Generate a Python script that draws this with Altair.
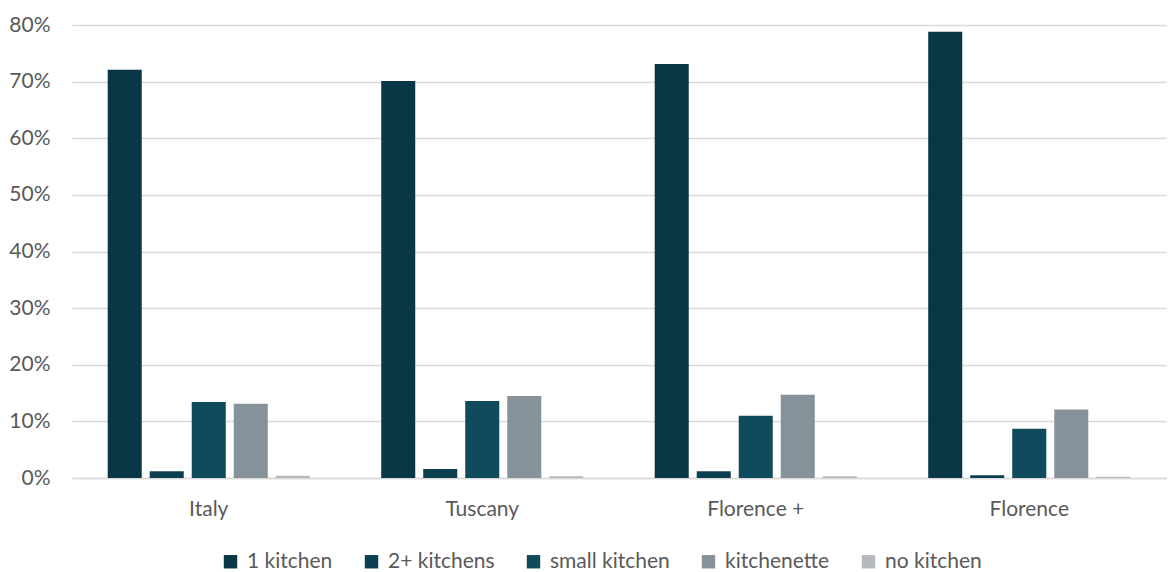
import altair as alt
import pandas as pd

regions = ["Italy", "Tuscany", "Florence +", "Florence"]
kinds = ["1 kitchen", "2+ kitchens", "small kitchen", "kitchenette", "no kitchen"]
colors = ["#0a3745", "#0c4050", "#0f4b5d", "#86929a", "#b6babe"]

one_kitchen = [72.1, 70.1, 73.1, 78.8]
two_plus = [1.2, 1.6, 1.2, 0.5]
small_kitchen = [13.4, 13.6, 11.0, 8.7]
kitchenette = [13.1, 14.5, 14.7, 12.1]
no_kitchen = [0.4, 0.3, 0.3, 0.2]

series = [one_kitchen, two_plus, small_kitchen, kitchenette, no_kitchen]
rows = []
for kind, vals in zip(kinds, series):
    for region, v in zip(regions, vals):
        rows.append({"region": region, "kind": kind, "share": v / 100})
df = pd.DataFrame(rows)

font = "Lato"
text_color = "#595959"

chart = alt.Chart(df).mark_bar().encode(
    x=alt.X("region:N", sort=regions, title=None,
            scale=alt.Scale(paddingInner=0, paddingOuter=0),
            axis=alt.Axis(labelAngle=0, ticks=False, domainColor="#d9d9d9",
                          domainWidth=1.5, labelPadding=20, labelFontSize=21,
                          labelColor=text_color, labelFont=font)),
    xOffset=alt.XOffset("kind:N", sort=kinds,
                        scale=alt.Scale(paddingInner=0.19, paddingOuter=0.85)),
    y=alt.Y("share:Q", title=None,
            scale=alt.Scale(domain=[0, 0.8], nice=False),
            axis=alt.Axis(format=".0%", values=[i / 10 for i in range(9)],
                          ticks=False, domain=False, gridColor="#d9d9d9",
                          gridWidth=1.5, labelPadding=22, labelFontSize=21,
                          labelColor=text_color, labelFont=font)),
    color=alt.Color("kind:N", sort=kinds, title=None,
                    scale=alt.Scale(domain=kinds, range=colors),
                    legend=alt.Legend(orient="none", direction="horizontal",
                                      legendX=148, legendY=526,
                                      symbolType="square", symbolSize=180,
                                      symbolStrokeWidth=0, labelFontSize=21,
                                      labelColor=text_color, labelFont=font,
                                      labelOffset=6, columnPadding=28)),
).properties(
    width=1094,
    height=453,
    autosize=alt.AutoSizeParams(type="none"),
    padding={"left": 72, "top": 25, "right": 2, "bottom": 94},
).configure_view(stroke=None)

chart.save("out.html", embed_options={"renderer": "svg", "actions": False})
